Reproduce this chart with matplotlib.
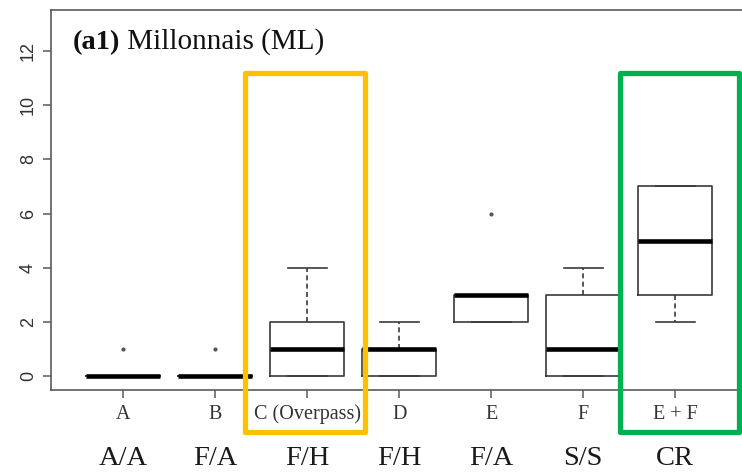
import matplotlib
matplotlib.use("Agg")
import matplotlib.pyplot as plt
from matplotlib.patches import Rectangle
from matplotlib.transforms import blended_transform_factory

# Crossing categories and their box-plot summaries
categories = ["A", "B", "C (Overpass)", "D", "E", "F", "E + F"]
crossing_types = ["A/A", "F/A", "F/H", "F/H", "F/A", "S/S", "CR"]
q1 = [0, 0, 0, 0, 2, 0, 3]
median = [0, 0, 1, 1, 3, 1, 5]
q3 = [0, 0, 2, 1, 3, 3, 7]
whisker_low = [0, 0, 0, 0, 2, 0, 2]
whisker_high = [0, 0, 4, 2, 3, 4, 7]
outliers = [[1], [1], [], [], [6], [], []]
y_ticks = [0, 2, 4, 6, 8, 10, 12]

serif = "Liberation Serif"
sans = "Liberation Sans"
spine_col = "#5a5a5a"

fig = plt.figure(figsize=(7.42, 4.73), dpi=100)
ax = fig.add_axes([0.0694, 0.1755, 0.9373, 0.8034])

stats = []
for i in range(len(categories)):
    stats.append(dict(q1=q1[i], med=median[i], q3=q3[i],
                      whislo=whisker_low[i], whishi=whisker_high[i],
                      fliers=outliers[i], label=categories[i]))

positions = list(range(1, len(categories) + 1))
ax.bxp(stats, positions=positions, widths=0.8, showfliers=True,
       boxprops=dict(color="#3a3a3a", linewidth=1.2),
       medianprops=dict(color="black", linewidth=3.3, solid_capstyle="butt"),
       whiskerprops=dict(color="#3a3a3a", linewidth=1.2, linestyle=(0, (3, 2))),
       capprops=dict(color="#3a3a3a", linewidth=1.2),
       flierprops=dict(marker="o", markersize=2.0, markerfacecolor="#555555",
                       markeredgecolor="#555555"),
       capwidths=0.42)

ax.set_xlim(0.22, 7.78)
ax.set_ylim(-0.52, 13.52)
ax.set_yticks(y_ticks)
ax.set_yticklabels([str(v) for v in y_ticks], rotation=90, va="center",
                   family=sans, fontsize=13, color="#333333")
ax.set_xticks(positions)
ax.set_xticklabels(categories, family=serif, fontsize=14.5, color="#333333")
ax.tick_params(axis="both", direction="out", length=5.5, width=1.1,
               color=spine_col)
ax.tick_params(axis="x", pad=5)
ax.tick_params(axis="y", pad=5)
for side in ["left", "bottom", "top", "right"]:
    ax.spines[side].set_color(spine_col)
    ax.spines[side].set_linewidth(1.2)

# Second row of labels: crossing type
trans = blended_transform_factory(ax.transData, fig.transFigure)
for x, lab in zip(positions, crossing_types):
    ax.text(x, 1 - 458 / 473, lab, transform=trans, ha="center", va="center",
            family=serif, fontsize=20.5, color="#1a1a1a", clip_on=False)

# Panel title with bold tag
t1 = fig.text(73 / 742, 1 - 55 / 473, "(a1)", family=serif, fontsize=20.5,
              fontweight="bold", ha="left", va="bottom", color="#111111")
ax.annotate(" Millonnais (ML)", xy=(1, 0), xycoords=t1, ha="left", va="bottom",
            family=serif, fontsize=21, color="#111111")

# Highlight frames
ax.add_patch(Rectangle((2.3207, -2.09), 3.625 - 2.3207, 11.21 + 2.09,
                       fill=False, edgecolor="#FFC000", linewidth=3.8,
                       clip_on=False, joinstyle="round", zorder=5))
ax.add_patch(Rectangle((6.402, -2.09), 7.696 - 6.402, 11.21 + 2.09,
                       fill=False, edgecolor="#00B050", linewidth=3.8,
                       clip_on=False, joinstyle="round", zorder=5))

fig.savefig("out.png", dpi=100)
